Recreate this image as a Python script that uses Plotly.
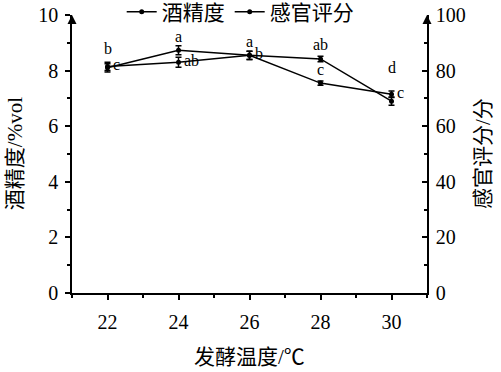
import plotly.graph_objects as go

temps = [22, 24, 26, 28, 30]
alcohol = [8.15, 8.30, 8.55, 7.55, 7.15]
alcohol_err = [0.15, 0.18, 0.15, 0.08, 0.12]
alcohol_letters = ["c", "ab", "b", "c", "c"]
sensory = [81.0, 87.3, 85.5, 84.2, 69.0]
sensory_err = [1.5, 1.6, 1.5, 1.0, 1.5]
sensory_letters = ["b", "a", "a", "ab", "d"]

serif = "Liberation Serif"
cjk = "Liberation Serif, Noto Sans CJK SC"

fig = go.Figure()
fig.add_trace(go.Scatter(
    x=temps, y=alcohol, name="酒精度", mode="lines+markers",
    line=dict(color="black", width=1.5), marker=dict(color="black", size=5),
    error_y=dict(type="data", array=alcohol_err, color="black", thickness=1.5, width=3),
))
fig.add_trace(go.Scatter(
    x=temps, y=sensory, name="感官评分", mode="lines+markers", yaxis="y2",
    line=dict(color="black", width=1.5), marker=dict(color="black", size=5),
    error_y=dict(type="data", array=sensory_err, color="black", thickness=1.5, width=3),
))

# significance letters
for t, v, lab in zip(temps, alcohol, alcohol_letters):
    if t == 28:
        fig.add_annotation(x=t, y=v, text=lab, showarrow=False, yshift=14,
                           font=dict(family=serif, size=16, color="black"))
    else:
        fig.add_annotation(x=t, y=v, text=lab, showarrow=False, xanchor="left",
                           xshift=3, yshift=2, font=dict(family=serif, size=16, color="black"))
for t, v, e, lab in zip(temps, sensory, sensory_err, sensory_letters):
    ys = 14
    if t == 22:
        ys = 19
    if t == 30:
        ys = 34
    fig.add_annotation(x=t, y=v, yref="y2", text=lab, showarrow=False, yshift=ys,
                       font=dict(family=serif, size=16, color="black"))

# axis arrows
for xp in [0, 1]:
    fig.add_annotation(x=xp, y=1.0, xref="paper", yref="paper", ax=0, ay=10,
                       showarrow=True, arrowhead=2, arrowsize=1.2, arrowwidth=1.5,
                       arrowcolor="black", text="")

# axis titles
fig.add_annotation(x=0.5, y=-0.23, xref="paper", yref="paper", text="发酵温度/℃",
                   showarrow=False, yanchor="middle", font=dict(family=cjk, size=21, color="black"))
fig.add_annotation(x=-0.16, y=0.5, xref="paper", yref="paper", text="酒精度/%vol", textangle=-90,
                   showarrow=False, xanchor="center", font=dict(family=cjk, size=21, color="black"))
fig.add_annotation(x=1.158, y=0.5, xref="paper", yref="paper", text="感官评分/分", textangle=-90,
                   showarrow=False, xanchor="center", font=dict(family=cjk, size=21, color="black"))

axis_common = dict(showline=True, linecolor="black", linewidth=1.5, showgrid=False,
                   zeroline=False, automargin=False,
                   tickfont=dict(family=serif, size=20, color="black"))

fig.update_layout(
    width=501, height=372,
    margin=dict(l=72, r=74, t=15, b=79, autoexpand=False),
    paper_bgcolor="white", plot_bgcolor="white",
    showlegend=True,
    legend=dict(orientation="h", x=0.14, xanchor="left", y=1.01, yanchor="middle",
                font=dict(family=cjk, size=21, color="black"),
                bgcolor="rgba(0,0,0,0)", itemwidth=30, tracegroupgap=0),
    font=dict(family=serif, color="black"),
    xaxis=dict(range=[21, 31], tickmode="array", tickvals=temps, ticktext=[str(t) for t in temps],
               ticks="outside", ticklen=5, tickwidth=1.5, tickcolor="black", ticklabelstandoff=5,
               minor=dict(dtick=1, tick0=21, ticks="outside", ticklen=3, tickwidth=1.5, tickcolor="black"),
               **axis_common),
    yaxis=dict(range=[0, 10], dtick=2, ticks="outside", ticklen=5, tickwidth=1.5, tickcolor="black",
               ticklabelstandoff=3,
               minor=dict(dtick=1, ticks="outside", ticklen=3, tickwidth=1.5, tickcolor="black"),
               **axis_common),
    yaxis2=dict(range=[0, 100], dtick=20, overlaying="y", side="right",
                ticks="inside", ticklen=5, tickwidth=1.5, tickcolor="black", ticklabelstandoff=3,
                minor=dict(dtick=10, ticks="inside", ticklen=3, tickwidth=1.5, tickcolor="black"),
                **axis_common),
)

fig.write_html("out.html", config={"displayModeBar": False},
               post_script="document.body.style.margin='0';document.body.style.overflow='hidden';")
